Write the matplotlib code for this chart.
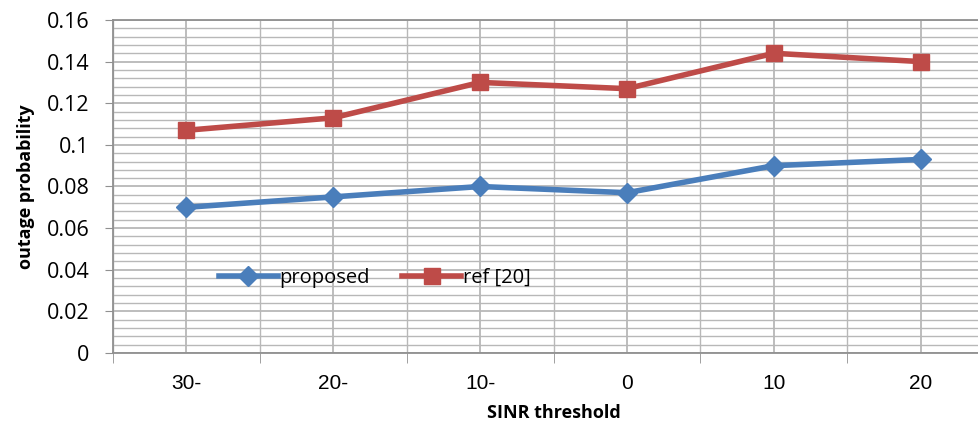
import matplotlib
matplotlib.use('Agg')
import matplotlib.pyplot as plt
import numpy as np
from matplotlib.ticker import MultipleLocator, FuncFormatter

thresholds = ['30-', '20-', '10-', '0', '10', '20']
proposed = [0.070, 0.075, 0.080, 0.077, 0.090, 0.093]
ref20 = [0.107, 0.113, 0.130, 0.127, 0.144, 0.140]

blue = '#4a7ebb'
red = '#be4b48'
grid_c = '#b8b8b8'

fig = plt.figure(figsize=(9.79, 4.25), dpi=100)
ax = fig.add_axes([0.1154, 0.1694, 0.9, 0.7836])

x = np.arange(len(thresholds))
ax.plot(x, proposed, color=blue, lw=4, marker='D', ms=10,
        label='proposed', zorder=3)
ax.plot(x, ref20, color=red, lw=4, marker='s', ms=11,
        label='ref [20]', zorder=3)

ax.set_xlim(-0.5, 5.5)
ax.set_ylim(0, 0.16)

# y: major every 0.02, minor every 0.004
ax.yaxis.set_major_locator(MultipleLocator(0.02))
ax.yaxis.set_minor_locator(MultipleLocator(0.004))
ax.yaxis.set_major_formatter(FuncFormatter(
    lambda v, pos: '0' if abs(v) < 1e-9 else f'{round(v, 2):g}'))

# x: labels at category centres, ticks at category boundaries
ax.set_xticks(x)
ax.set_xticklabels(thresholds)
ax.set_xticks(np.arange(-0.5, 6, 1), minor=True)
ax.tick_params(axis='x', which='major', length=0, pad=15, labelsize=15)
ax.tick_params(axis='x', which='minor', length=7, color='#909090')
ax.tick_params(axis='y', which='major', length=6, color='#909090',
               labelsize=15.5, pad=11)
ax.tick_params(axis='y', which='minor', length=0)
for lbl in ax.get_yticklabels():
    lbl.set_fontfamily('Open Sans')
for lbl in ax.get_xticklabels():
    lbl.set_fontfamily('Liberation Sans')

ax.grid(True, which='major', color=grid_c, lw=1.3)
ax.grid(True, which='minor', color=grid_c, lw=1.0)
ax.set_axisbelow(True)

for s in ['left', 'bottom', 'top']:
    ax.spines[s].set_color('#909090')
    ax.spines[s].set_linewidth(1.3)
ax.spines['right'].set_visible(False)

ax.set_xlabel('SINR threshold', fontsize=13, fontweight='bold',
              fontfamily='Open Sans', labelpad=8)
ax.set_ylabel('outage probability', fontsize=13, fontweight='bold',
              fontfamily='Open Sans', labelpad=8)

ax.legend(loc='center left', bbox_to_anchor=(0.1, 0.225), ncol=2,
          frameon=False, handlelength=2.9, handletextpad=0.1,
          columnspacing=1.6, prop={'family': 'Open Sans', 'size': 14.5})

fig.savefig('out.png', dpi=100)
